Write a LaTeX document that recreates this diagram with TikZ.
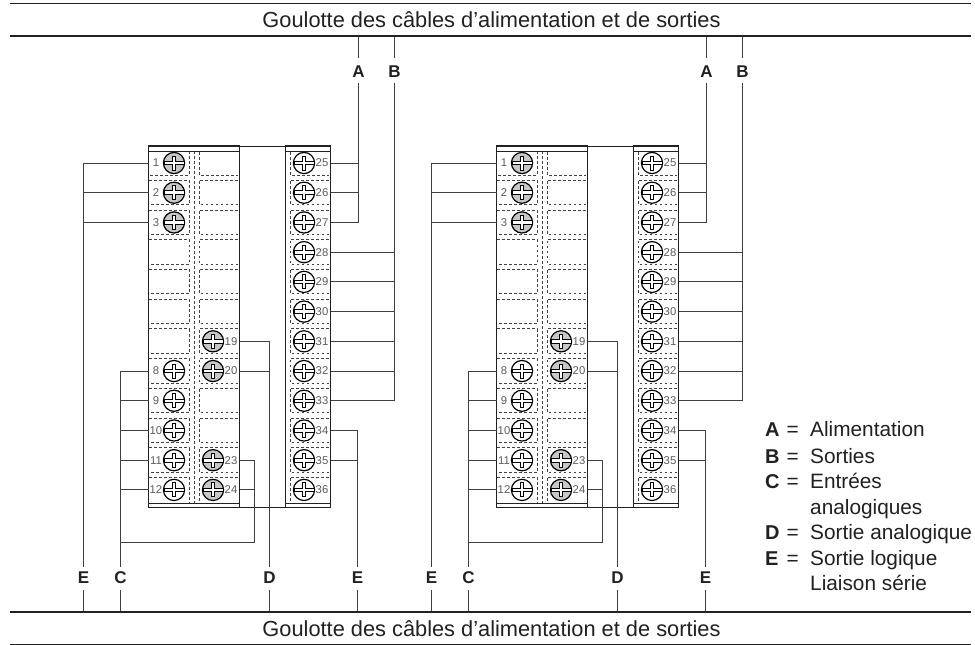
\documentclass[tikz,border=0pt]{standalone}
\usepackage{fontspec}
\setmainfont{Liberation Sans}
\definecolor{wire}{gray}{0.25}
\definecolor{ink}{gray}{0.13}
\definecolor{num}{gray}{0.36}
\definecolor{scr}{gray}{0.78}
\tikzset{
  x=1pt,y=-1pt,
  wirel/.style={draw=wire,line width=1pt},
  frame/.style={draw=ink,line width=1.5pt},
  thin frame/.style={draw=ink,line width=0.9pt},
  dash box/.style={draw=ink!85,line width=0.8pt,dash pattern=on 2.8pt off 2.2pt},
  num label/.style={font=\fontsize{11.3}{12}\selectfont,text=num,inner sep=0pt},
  tag/.style={font=\fontsize{17}{17}\selectfont\bfseries,text=ink,inner sep=0pt},
  duct/.style={font=\fontsize{21.8}{22}\selectfont,text=ink,inner sep=0pt},
  legend/.style={font=\fontsize{20.8}{22}\selectfont,text=ink,inner sep=0pt,anchor=base west},
  legend key/.style={legend,font=\fontsize{20}{22}\selectfont\bfseries},
}
% screw at (#1,#2), fill #3
\newcommand{\screw}[3]{%
  \filldraw[fill=#3,draw=black,line width=1.2pt] (#1,#2) circle (10.6pt);
  \begin{scope}[shift={(#1,#2)}]
    \draw[black,line width=0.9pt,fill=white]
      (-1.8,-7) -- (1.8,-7) -- (1.8,-1.8) -- (10,-1.8) -- (10,1.8) -- (1.8,1.8) -- (1.8,7) -- (-1.8,7) -- (-1.8,1.8) -- (-10,1.8) -- (-10,-1.8) -- (-1.8,-1.8) -- cycle;
  \end{scope}}
\newcommand{\module}[2]{%
\begin{scope}[xshift=#2pt]
  % dashed cells, columns 1, 2, 3
  \foreach \i in {0,...,11}{
    \pgfmathsetmacro\ta{\i==0?151:150.5+29.72*\i}
    \pgfmathsetmacro\tb{\i==11?503:175+29.72*\i}
    \draw[dash box] (149,\ta) -- (189,\ta) -- (189,\tb) -- (149,\tb);
    \draw[dash box] (238,\ta) -- (199,\ta) -- (199,\tb) -- (238,\tb);
    \draw[dash box] (329,\ta) -- (290,\ta) -- (290,\tb) -- (329,\tb);
  }
  \draw[dash box] (194,151) -- (194,503);
  % frame
  \draw[frame] (148.5,146) rectangle (239.5,507.5);
  \draw[frame] (285.5,146) rectangle (330.5,507.5);
  \draw[thin frame] (239,146) -- (285,146);
  \draw[thin frame] (239,507.5) -- (285,507.5);
  \draw[thin frame] (148,151) -- (239,151) (285,151) -- (330,151);
  \draw[thin frame] (148,503) -- (239,503) (285,503) -- (330,503);
  % screws
  \foreach \n/\r/\sx/\fc in {1/0/174/scr,2/1/174/scr,3/2/174/scr,8/7/174/white,9/8/174/white,10/9/174/white,11/10/174/white,12/11/174/white,
     19/6/213/scr,20/7/213/scr,23/10/213/scr,24/11/213/scr,
     25/0/304/white,26/1/304/white,27/2/304/white,28/3/304/white,29/4/304/white,30/5/304/white,31/6/304/white,32/7/304/white,33/8/304/white,34/9/304/white,35/10/304/white,36/11/304/white}{
    \pgfmathsetmacro\ry{163+29.72*\r}
    \pgfmathsetmacro\wy{floor(\ry)+0.5}
    \screw{\sx}{\ry}{\fc}
    \ifnum\n<13
      \node[num label] (#1n\n) at (156,\ry) {\n};
      \coordinate (#1t\n) at (148.5,\wy);
    \else
      \ifnum\n<25
        \node[num label] (#1n\n) at (231,\ry) {\n};
        \coordinate (#1t\n) at (239.5,\wy);
      \else
        \node[num label] (#1n\n) at (322,\ry) {\n};
        \coordinate (#1t\n) at (330.5,\wy);
      \fi
    \fi
  }
  % tags
  \node[tag] (#1A) at (358.5,71.5) {A};
  \node[tag] (#1B) at (394.5,71.5) {B};
  \node[tag] (#1Ea) at (83.5,578) {E};
  \node[tag] (#1C) at (120.5,578) {C};
  \node[tag] (#1D) at (269.5,578) {D};
  \node[tag] (#1Eb) at (357.5,578) {E};
  % bus coordinates
  \coordinate (#1Atop) at (358.5,36);
  \coordinate (#1Btop) at (394.5,36);
  \foreach \q/\xx in {Ea/83.5,C/120.5,D/269.5,Eb/357.5}{\coordinate (#1\q bot) at (\xx,612);}
  \coordinate (#1Cj) at (120.5,542.5);
  % A
  \draw[wirel] (#1Atop) -- (#1A.north |- 0,58);
  \draw[wirel] (#1A.south |- 0,83) |- (#1t27);
  \foreach \n in {25,26}{\draw[wirel] (#1t\n) -- (#1t\n -| #1A.south);}
  % B
  \draw[wirel] (#1Btop) -- (#1B.north |- 0,58);
  \draw[wirel] (#1B.south |- 0,83) |- (#1t33);
  \foreach \n in {28,...,32}{\draw[wirel] (#1t\n) -- (#1t\n -| #1B.south);}
  % E left
  \draw[wirel] (#1t1) -| (#1Ea.north |- 0,567);
  \foreach \n in {2,3}{\draw[wirel] (#1t\n) -- (#1t\n -| #1Ea.north);}
  \draw[wirel] (#1Ea.south |- 0,590) -- (#1Eabot);
  % C
  \draw[wirel] (#1t8) -| (#1C.north |- 0,567);
  \foreach \n in {9,...,12}{\draw[wirel] (#1t\n) -- (#1t\n -| #1C.north);}
  \draw[wirel] (#1C.south |- 0,590) -- (#1Cbot);
  \draw[wirel] (#1Cj) -| (#1t23 -| 254.5,0) -- (#1t23);
  \draw[wirel] (#1t24) -- (#1t24 -| 254.5,0);
  % D
  \draw[wirel] (#1t19) -| (#1D.north |- 0,567);
  \draw[wirel] (#1t20) -- (#1t20 -| #1D.north);
  \draw[wirel] (#1D.south |- 0,590) -- (#1Dbot);
  % E right
  \draw[wirel] (#1t34) -| (#1Eb.north |- 0,567);
  \draw[wirel] (#1t35) -- (#1t35 -| #1Eb.north);
  \draw[wirel] (#1Eb.south |- 0,590) -- (#1Ebbot);
\end{scope}}
\begin{document}
\begin{tikzpicture}
\useasboundingbox (0,0) rectangle (975,645);
\fill[white] (0,0) rectangle (975,645);
\module{l}{0}
\module{r}{348}
\draw[ink,line width=1.6pt] (10,3.5) -- (971,3.5);
\draw[ink,line width=2pt] (10,36) -- (971,36);
\draw[ink,line width=2pt] (10,612) -- (971,612);
\draw[ink,line width=1pt] (10,644.2) -- (971,644.2);
\node[duct] (ducttop) at (491.5,20) {Goulotte des câbles d'alimentation et de sorties};
\node[duct] (ductbot) at (491.5,629) {Goulotte des câbles d'alimentation et de sorties};
\foreach \yy/\k/\eq/\txt in {436.7/A/=/Alimentation,463/B/=/Sorties,488/C/=/Entrées,514//{}/analogiques,539/D/=/Sortie analogique,565/E/=/Sortie logique,590.7//{}/Liaison série}{
  \node[legend key] (k\yy) at (765,\yy) {\k};
  \node[legend] (e\yy) at (786.5,\yy) {\eq};
  \node[legend] (v\yy) at (810,\yy) {\txt};
}
\end{tikzpicture}
\end{document}
